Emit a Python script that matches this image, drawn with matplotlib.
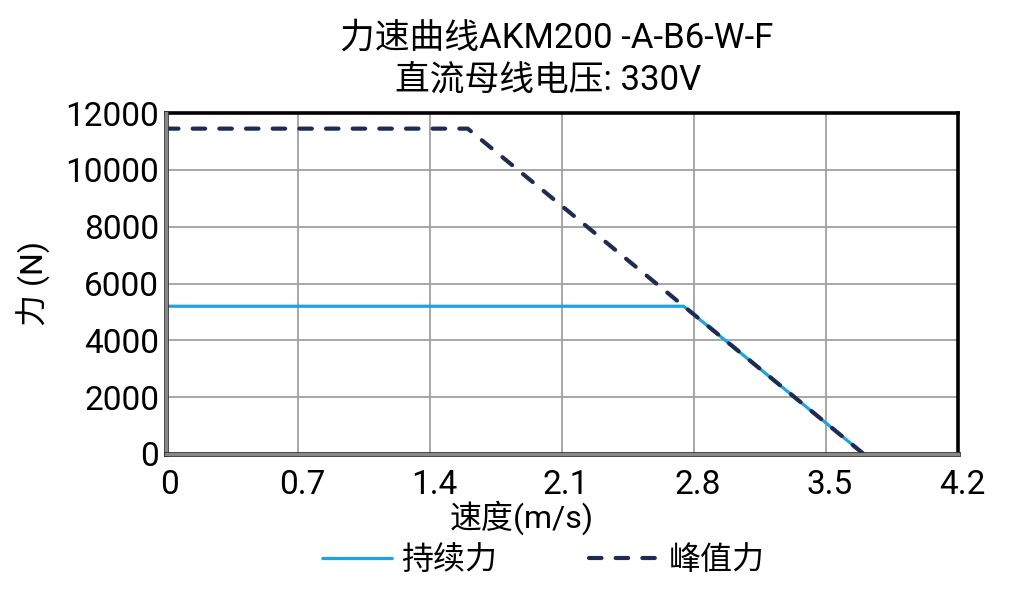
import matplotlib
matplotlib.use("Agg")
import matplotlib.pyplot as plt
import matplotlib.patheffects as pe
import matplotlib.transforms as mtransforms

plt.rcParams['font.family'] = ['Roboto', 'Noto Sans CJK SC', 'DejaVu Sans']

# Data
cont_speed = [0.0, 2.745, 3.7]
cont_force = [5200, 5200, 0]
peak_speed = [0.0, 1.6, 3.7]
peak_force = [11450, 11450, 0]
xticks = [0, 0.7, 1.4, 2.1, 2.8, 3.5, 4.2]
xticklabels = ['0', '0.7', '1.4', '2.1', '2.8', '3.5', '4.2']
yticks = [0, 2000, 4000, 6000, 8000, 10000, 12000]
title_line1 = '力速曲线AKM200 -A-B6-W-F'
title_line2 = '直流母线电压: 330V'
xlabel_text = '速度(m/s)'
ylabel_text = '力 (N)'
legend_labels = ['持续力', '峰值力']

cont_color = '#1CA3E0'
peak_color = '#1E2B55'
FS = 23

fig = plt.figure(figsize=(10.21, 6.02), dpi=100)
ax = fig.add_axes([166/1021, 1-454/602, (958-166)/1021, (454-113)/602])

l1, = ax.plot(cont_speed, cont_force, color=cont_color, lw=2.3, solid_capstyle='butt', zorder=3)
l2, = ax.plot(peak_speed, peak_force, color=peak_color, lw=3.0, dashes=(3.0, 3.4),
              dash_capstyle='round', zorder=4)

ax.set_xlim(0, 4.2)
ax.set_ylim(0, 12000)
ax.set_xticks(xticks)
ax.set_xticklabels(xticklabels)
ax.set_yticks(yticks)
ax.tick_params(axis='both', length=0, labelsize=24, colors='black')
ax.tick_params(axis='x', pad=11)
ax.tick_params(axis='y', pad=5)
ax.grid(True, color='#A0A0A0', lw=1.3, zorder=1)
ax.set_axisbelow(True)

offset = mtransforms.ScaledTranslation(4/100, 0, fig.dpi_scale_trans)
for lbl in ax.get_xticklabels():
    lbl.set_transform(lbl.get_transform() + offset)

for s in ['top', 'right']:
    ax.spines[s].set_color('black')
    ax.spines[s].set_linewidth(2.6)
for s in ['left', 'bottom']:
    ax.spines[s].set_color('#888888')
    ax.spines[s].set_linewidth(2.4)
    ax.spines[s].set_path_effects([pe.Stroke(linewidth=3.4, foreground='#222222'), pe.Normal()])
    ax.spines[s].set_zorder(5)

fig.text(557/1021, 1-38/602, title_line1, ha='center', va='center', fontsize=25)
fig.text(548/1021, 1-80/602, title_line2, ha='center', va='center', fontsize=25)
fig.text(522/1021, 1-518/602, xlabel_text, ha='center', va='center', fontsize=FS)
fig.text(34/1021, 1-283/602, ylabel_text, ha='center', va='center', fontsize=FS, rotation=90)

leg = fig.legend([l1, l2], legend_labels, loc='center', bbox_to_anchor=(543/1021, 1-560/602),
                 ncol=2, frameon=False, fontsize=FS, handlelength=2.25, handletextpad=0.25,
                 columnspacing=2.9)

fig.savefig('out.png', dpi=100)
